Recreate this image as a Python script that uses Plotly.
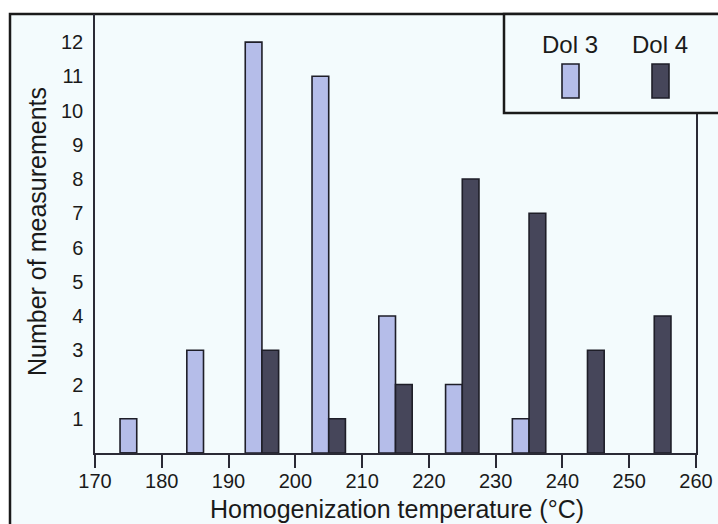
import plotly.graph_objects as go

temperatures = [175, 185, 195, 205, 215, 225, 235, 245, 255]
dol3_counts = [1, 3, 12, 11, 4, 2, 1, 0, 0]
dol4_counts = [0, 0, 3, 1, 2, 8, 7, 3, 4]
series_names = ["Dol 3", "Dol 4"]
x_ticks = [170, 180, 190, 200, 210, 220, 230, 240, 250, 260]
y_ticks = list(range(1, 13))
x_title = "Homogenization temperature (°C)"
y_title = "Number of measurements"

FILL3 = "#b5bde9"
FILL4 = "#46465a"
EDGE = "#1e1e28"
BG = "#f3fbfd"
TXT = "#1a1a1a"
FONT = "Liberation Sans, Arial, sans-serif"
BW = 2.5

def offsets(own, other, first):
    res = []
    for a, b in zip(own, other):
        if a > 0 and b > 0:
            res.append(-BW if first else 0.0)
        else:
            res.append(-BW / 2)
    return res

fig = go.Figure()
fig.add_trace(go.Bar(
    x=temperatures, y=dol3_counts, name=series_names[0],
    width=BW, offset=offsets(dol3_counts, dol4_counts, True),
    marker=dict(color=FILL3, line=dict(color=EDGE, width=1.6)),
    showlegend=False,
))
fig.add_trace(go.Bar(
    x=temperatures, y=dol4_counts, name=series_names[1],
    width=BW, offset=offsets(dol4_counts, dol3_counts, False),
    marker=dict(color=FILL4, line=dict(color=EDGE, width=1.6)),
    showlegend=False,
))

# pixel helpers for plot area: x 95..696, y 14..453
PL, PR, PT, PB = 95, 696, 14, 453
def px(x):
    return (x - PL) / (PR - PL)
def py(y):
    return (PB - y) / (PB - PT)

shapes = [
    # outer frame
    dict(type="rect", xref="paper", yref="paper", x0=px(10), x1=px(760), y0=py(560), y1=py(14),
         fillcolor=BG, line=dict(color=TXT, width=2.5), layer="below"),
    # legend box
    dict(type="rect", xref="paper", yref="paper", x0=px(504), x1=px(760), y0=py(113), y1=py(14),
         fillcolor=BG, line=dict(color=TXT, width=2.5), layer="above"),
    # legend swatches
    dict(type="rect", xref="paper", yref="paper", x0=px(562), x1=px(579), y0=py(98), y1=py(64),
         fillcolor=FILL3, line=dict(color=EDGE, width=1.6), layer="above"),
    dict(type="rect", xref="paper", yref="paper", x0=px(652), x1=px(669), y0=py(98), y1=py(64),
         fillcolor=FILL4, line=dict(color=EDGE, width=1.6), layer="above"),
]
annotations = [
    dict(text=series_names[0], xref="paper", yref="paper", x=px(570), y=py(44),
         showarrow=False, font=dict(size=24, color=TXT, family=FONT), xanchor="center", yanchor="middle"),
    dict(text=series_names[1], xref="paper", yref="paper", x=px(660), y=py(44),
         showarrow=False, font=dict(size=24, color=TXT, family=FONT), xanchor="center", yanchor="middle"),
    dict(text=x_title, xref="paper", yref="paper", x=px(397), y=py(509),
         showarrow=False, font=dict(size=25, color=TXT, family=FONT), xanchor="center", yanchor="middle"),
    dict(text=y_title, xref="paper", yref="paper", x=px(37), y=py(232), textangle=-90,
         showarrow=False, font=dict(size=25, color=TXT, family=FONT), xanchor="center", yanchor="middle"),
]

fig.update_layout(
    width=718, height=524,
    margin=dict(l=PL, r=718 - PR, t=PT, b=524 - PB, autoexpand=False),
    paper_bgcolor="white", plot_bgcolor="rgba(0,0,0,0)",
    barmode="overlay",
    font=dict(family=FONT, color=TXT),
    shapes=shapes, annotations=annotations,
    xaxis=dict(
        range=[170, 260], tickvals=x_ticks, ticktext=[str(v) for v in x_ticks],
        showgrid=False, zeroline=False, showline=True, linecolor="#2a2a35", linewidth=1.5,
        ticks="outside", ticklen=13, tickwidth=1.5, tickcolor="#2a2a35",
        ticklabelstandoff=-4, automargin=False,
        tickfont=dict(size=20, color=TXT),
    ),
    yaxis=dict(
        range=[0, 12.82], tickvals=y_ticks, ticktext=[str(v) for v in y_ticks],
        showgrid=False, zeroline=False, showline=True, linecolor="#2a2a35", linewidth=1.5,
        mirror=True, ticks="", ticklabelstandoff=6, automargin=False,
        tickfont=dict(size=20, color=TXT),
    ),
)

fig.write_html("out.html")
